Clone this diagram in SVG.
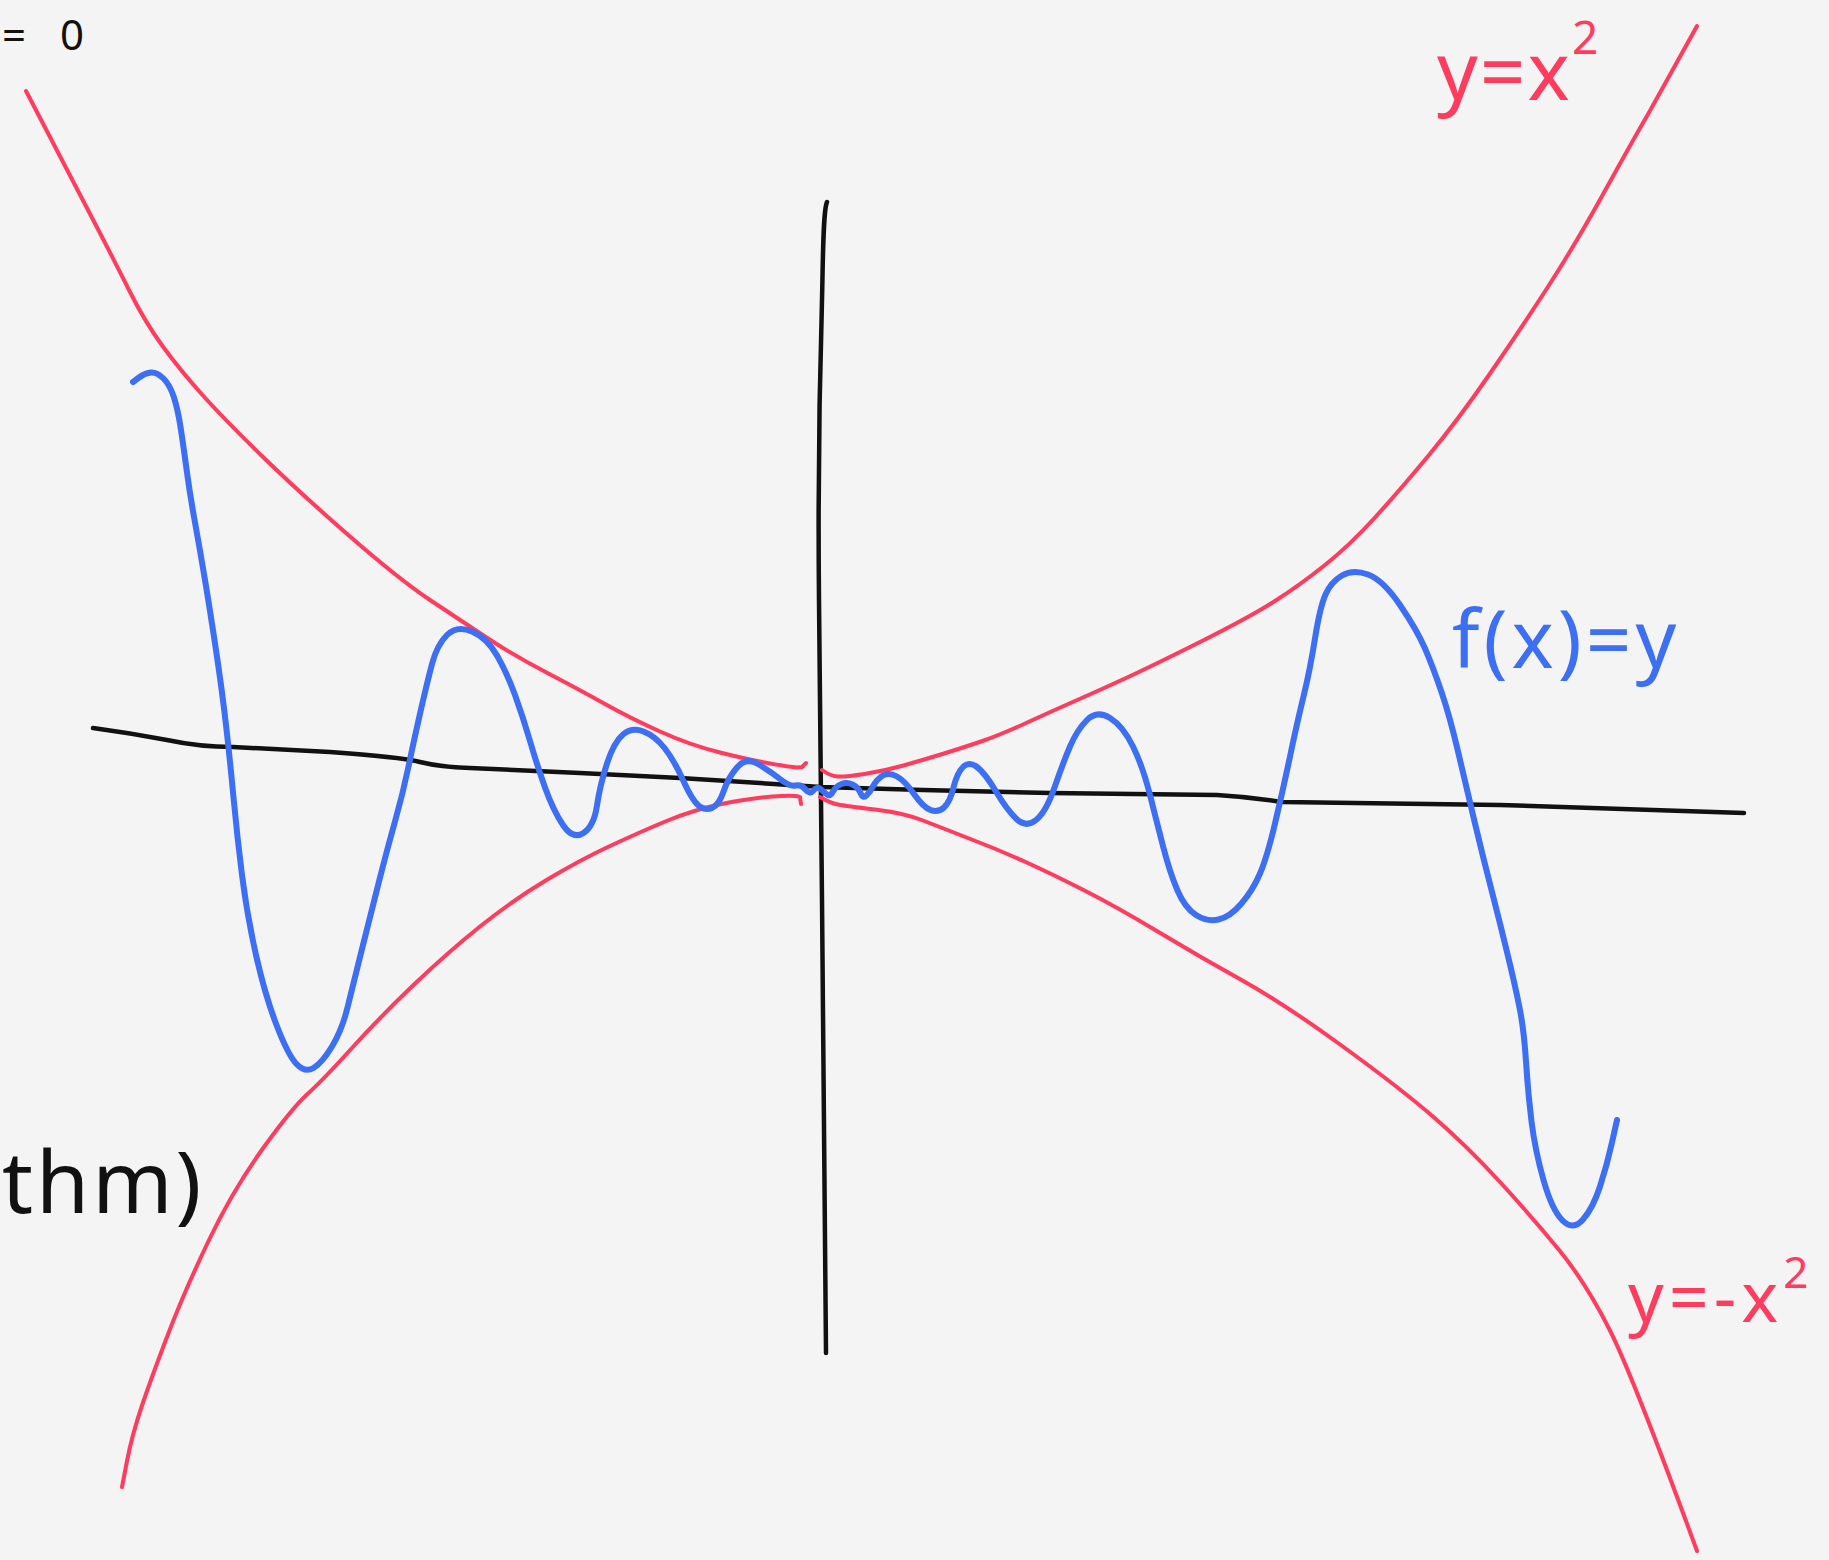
<svg xmlns="http://www.w3.org/2000/svg" width="1829" height="1560" viewBox="0 0 1829 1560">
  <style>
    .red { fill: none; stroke: #ff3c5e; stroke-width: 4; stroke-linecap: round; stroke-linejoin: round; }
    .blue { fill: none; stroke: #3d6ff4; stroke-width: 6; stroke-linecap: round; stroke-linejoin: round; }
    .axis { fill: none; stroke: #111111; stroke-width: 4.5; stroke-linecap: round; stroke-linejoin: round; }
    .lbl { font-family: "Noto Sans", "Liberation Sans", sans-serif; font-weight: 400; }
    .lred { fill: #ff3c5e; }
    .lblue { fill: #3d6ff4; }
    .lblack { fill: #111111; }
  </style>
  <rect x="0" y="0" width="1829" height="1560" fill="#f4f4f4"/>

  <g id="axes">
    <path id="x-axis" class="axis" d="M93,728 Q130,733 167,740 Q200,747 233,747 L330,752 Q400,757 420,762 Q440,767 470,768 L580,773 L680,778 L821,787 L923,790 L1050,793 L1217,795 Q1250,797 1283,802 L1500,805 L1744,813"/>
    <path id="y-axis" class="axis" d="M827,202 C823,210 823,260 822,300 C819,400 818,500 819,600 C820,700 821,800 822,900 C823,1100 826,1250 826,1353"/>
  </g>

  <g id="upper-bound">
    <path class="red" d="M26,91 L50.5,138 Q75,185 95,223.5 Q115,262 130,292 Q145,322 162.5,346 Q180,370 202.5,395 Q225,420 262.5,456.5 Q300,493 350,536.5 Q400,580 430,600 Q460,620 486.5,637.5 Q513,655 546.5,672.5 Q580,690 605,704 Q630,718 660,731.5 Q690,745 720,752.5 Q750,760 770,763.5 Q790,767 797,767.5 L802,767 L806,763"/>
    <path class="red" d="M822,770 Q830,776 837.5,776.5 Q845,777 864.5,774 Q884,771 903.5,765.5 Q923,760 944,753.5 Q965,747 982.5,741 Q1000,735 1025,723.5 Q1050,712 1075,701 Q1100,690 1125,678.5 Q1150,667 1200,642 Q1250,617 1275,601 Q1300,585 1325,565 Q1350,545 1375,517.5 Q1400,490 1429,455 Q1458,420 1489,375 Q1520,330 1547.5,287.5 Q1575,245 1604,192.5 Q1633,140 1649,112.5 L1697,26"/>
  </g>

  <g id="lower-bound">
    <path class="red" d="M122,1487 L127,1461 Q132,1435 142,1405.5 Q152,1376 168.5,1333 Q185,1290 209,1240 Q233,1190 262.5,1149 Q292,1108 307.5,1094 Q323,1080 351.5,1048.5 Q380,1017 413.5,985 Q447,953 480,926.5 Q513,900 546.5,880 Q580,860 610,846 Q640,832 666.5,821 Q693,810 721.5,804 Q750,798 772.5,796.5 Q795,795 800,797 L801,804"/>
    <path class="red" d="M820,797 Q830,803 838,804.5 Q846,806 875,809.5 Q904,813 923,820.5 Q942,828 970.5,839 Q999,850 1024.5,861.5 Q1050,873 1083.5,890 Q1117,907 1158.5,932 Q1200,957 1241.5,980 Q1283,1003 1341.5,1045.5 Q1400,1088 1433.5,1117 Q1467,1146 1500,1182 Q1533,1218 1559.5,1250.5 Q1586,1283 1609.5,1329.5 Q1633,1376 1697,1551"/>
  </g>

  <g id="function-f">
    <path class="blue" d="M133,382 L139,377.5 Q145,373 151,372.5 Q157,372 163.5,378.5 Q170,385 174,397.5 Q178,410 181,430 Q184,450 187,472.5 Q190,495 195,522.5 Q200,550 205,580 Q210,610 216,650 Q222,690 226,725 Q230,760 233.5,797.5 Q237,835 242,875 Q247,915 256,955 Q265,995 276.5,1025 Q288,1055 296.5,1064 Q305,1073 313.5,1068 Q322,1063 332,1046.5 Q342,1030 347.5,1007.5 Q353,985 361.5,951 Q370,917 378.5,883.5 Q387,850 395,821.5 Q403,793 408.5,766.5 Q414,740 420.5,711.5 Q427,683 432,664 Q437,645 447,635 Q457,625 472,631.5 Q487,638 497,655.5 Q507,673 515,695 Q523,717 530,741 Q537,765 545,787.5 Q553,810 563,825 Q573,840 583.5,833 Q594,826 597,805.5 Q600,785 607,763.5 Q614,742 623,734.5 Q632,727 643.5,731.5 Q655,736 664.5,748 Q674,760 683,780 Q692,800 698.5,805.5 Q705,811 712,808 Q719,805 723.5,791.5 Q728,778 737,767.5 Q746,757 758,764 Q770,771 780,779 Q790,787 795.5,785.5 Q801,784 805.5,789.5 Q810,795 813.5,790.5 Q817,786 820.5,789 Q824,792 827,794.5 Q830,797 833,791.5 Q836,786 841.5,784 Q847,782 852.5,784.5 Q858,787 860.5,793 Q863,799 866.5,795.5 Q870,792 873.5,785.5 Q877,779 883,775.5 Q889,772 897,776.5 Q905,781 914,794 Q923,807 930.5,810 Q938,813 944,807.5 Q950,802 953.5,787.5 Q957,773 963,767 Q969,761 977,767 Q985,773 996,791.5 Q1007,810 1016.5,819 Q1026,828 1036,820 Q1046,812 1054.5,787.5 Q1063,763 1070,746.5 Q1077,730 1087,720 Q1097,710 1110,718 Q1123,726 1133,746.5 Q1143,767 1150,795 Q1157,823 1163.5,848 Q1170,873 1177.5,890.5 Q1185,908 1196,915 Q1207,922 1218.5,919.5 Q1230,917 1241.5,903.5 Q1253,890 1260,873.5 Q1267,857 1275,823.5 Q1283,790 1290,756.5 Q1297,723 1303.5,696.5 Q1310,670 1315,638.5 Q1320,607 1325.5,594.5 Q1331,582 1342,575.5 Q1353,569 1368,574.5 Q1383,580 1400,605 Q1417,630 1425,648.5 Q1433,667 1441.5,692 Q1450,717 1458.5,753.5 Q1467,790 1475,823.5 Q1483,857 1491.5,890 Q1500,923 1507.5,954 Q1515,985 1519.5,1007.5 Q1524,1030 1526,1061.5 Q1528,1093 1531.5,1121.5 Q1535,1150 1543.5,1180 Q1552,1210 1562.5,1220.5 Q1573,1231 1583,1219.5 Q1593,1208 1600,1186.5 Q1607,1165 1612,1142.5 L1617,1120"/>
  </g>

  <g id="labels">
    <text id="label-eq0" class="lbl lblack" y="50" font-size="42"><tspan x="2">=</tspan><tspan x="60">0</tspan></text>
    <text id="label-upper" class="lbl lred" x="1437" y="100" font-size="80" letter-spacing="2">y=x<tspan font-size="46" dy="-46" letter-spacing="0">2</tspan></text>
    <text id="label-f" class="lbl lblue" x="1452" y="668" font-size="80" letter-spacing="4">f(x)=y</text>
    <text id="label-thm" class="lbl lblack" x="2" y="1213" font-size="86" letter-spacing="3">thm)</text>
    <text id="label-lower" class="lbl lred" x="1628" y="1322" font-size="70" letter-spacing="5">y=-x<tspan font-size="44" dy="-34" letter-spacing="0">2</tspan></text>
  </g>
</svg>
